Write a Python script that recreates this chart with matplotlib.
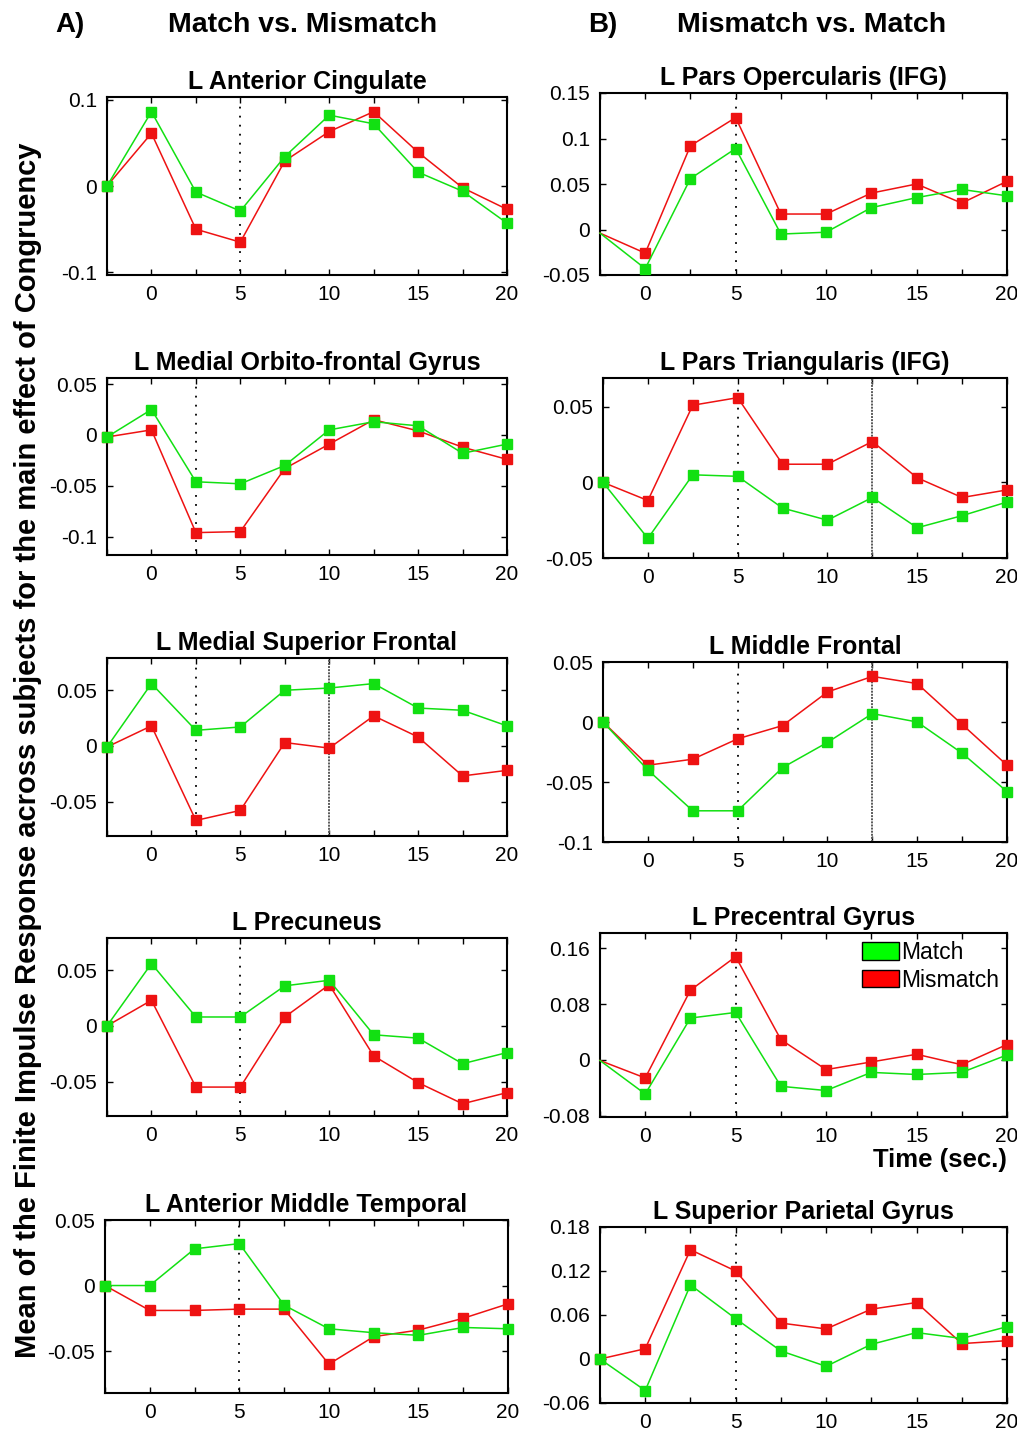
import matplotlib
matplotlib.use("Agg")
import matplotlib.pyplot as plt
from matplotlib.patches import Patch

plt.rcParams["font.family"] = ["Liberation Sans", "DejaVu Sans"]

W, H = 1017, 1431

TIME = [-2.5, 0, 2.5, 5, 7.5, 10, 12.5, 15, 17.5, 20]
XTICKS = [-2.5, 0, 2.5, 5, 7.5, 10, 12.5, 15, 17.5, 20]
XLABELS = ["", "0", "", "5", "", "10", "", "15", "", "20"]

# column A: Match vs. Mismatch
TITLES_A = ["L Anterior Cingulate", "L Medial Orbito-frontal Gyrus",
            "L Medial Superior Frontal", "L Precuneus", "L Anterior Middle Temporal"]
MATCH_A = [
    [0, 0.086, -0.007, -0.029, 0.034, 0.082, 0.072, 0.016, -0.006, -0.043],
    [-0.002, 0.025, -0.046, -0.048, -0.030, 0.005, 0.013, 0.009, -0.018, -0.009],
    [-0.001, 0.056, 0.014, 0.017, 0.050, 0.052, 0.056, 0.034, 0.032, 0.018],
    [0, 0.056, 0.008, 0.008, 0.036, 0.041, -0.008, -0.011, -0.034, -0.024],
    [0, 0, 0.028, 0.032, -0.015, -0.033, -0.036, -0.038, -0.032, -0.033],
]
MISMATCH_A = [
    [0, 0.061, -0.050, -0.065, 0.029, 0.063, 0.086, 0.039, -0.002, -0.027],
    [-0.002, 0.005, -0.096, -0.095, -0.033, -0.009, 0.015, 0.004, -0.012, -0.024],
    [-0.001, 0.018, -0.067, -0.058, 0.003, -0.002, 0.027, 0.008, -0.027, -0.022],
    [0, 0.023, -0.055, -0.055, 0.008, 0.037, -0.027, -0.051, -0.070, -0.060],
    [0, -0.019, -0.019, -0.018, -0.018, -0.060, -0.039, -0.034, -0.025, -0.014],
]
YLIM_A = [(-0.103, 0.103), (-0.118, 0.056), (-0.081, 0.079), (-0.081, 0.079), (-0.082, 0.05)]
YTICKS_A = [[-0.1, 0, 0.1], [-0.1, -0.05, 0, 0.05], [-0.05, 0, 0.05],
            [-0.05, 0, 0.05], [-0.05, 0, 0.05]]
DOTTED_A = [5, 2.5, 2.5, 5, 5]
GRAY_A = [None, None, 10, None, None]

# column B: Mismatch vs. Match
TITLES_B = ["L Pars Opercularis (IFG)", "L Pars Triangularis (IFG)", "L Middle Frontal",
            "L Precentral Gyrus", "L Superior Parietal Gyrus"]
MATCH_B = [
    [-0.004, -0.043, 0.056, 0.089, -0.005, -0.003, 0.024, 0.035, 0.044, 0.037],
    [0, -0.037, 0.005, 0.004, -0.017, -0.025, -0.010, -0.030, -0.022, -0.013],
    [0, -0.040, -0.074, -0.074, -0.038, -0.017, 0.007, 0, -0.026, -0.058],
    [-0.001, -0.049, 0.060, 0.068, -0.038, -0.044, -0.018, -0.021, -0.018, 0.007],
    [0, -0.043, 0.101, 0.055, 0.011, -0.010, 0.020, 0.036, 0.028, 0.044],
]
MISMATCH_B = [
    [-0.004, -0.026, 0.092, 0.123, 0.017, 0.017, 0.040, 0.050, 0.029, 0.053],
    [0, -0.012, 0.051, 0.056, 0.012, 0.012, 0.027, 0.003, -0.010, -0.005],
    [0, -0.036, -0.031, -0.014, -0.003, 0.025, 0.038, 0.032, -0.002, -0.036],
    [-0.001, -0.026, 0.100, 0.148, 0.029, -0.014, -0.003, 0.008, -0.007, 0.022],
    [0, 0.014, 0.149, 0.120, 0.049, 0.041, 0.068, 0.077, 0.021, 0.025],
]
YLIM_B = [(-0.05, 0.15), (-0.05, 0.069), (-0.1, 0.05), (-0.082, 0.182), (-0.06, 0.18)]
YTICKS_B = [[-0.05, 0, 0.05, 0.1, 0.15], [-0.05, 0, 0.05], [-0.1, -0.05, 0, 0.05],
            [-0.08, 0, 0.08, 0.16], [-0.06, 0, 0.06, 0.12, 0.18]]
DOTTED_B = [5, 5, 5, 5, 5]
GRAY_B = [None, 12.5, 12.5, None, None]
# panels whose first point shows no coloured marker
BARE_START_B = [True, False, False, True, False]

GREEN = "#12e012"
RED = "#ee1212"

# axes boxes in pixels: (left, top, right, bottom)
BOX_A = [(107, 97, 507, 275), (107, 378, 507, 555), (107, 658, 507, 836),
         (107, 938, 507, 1116), (105, 1220, 508, 1393)]
BOX_B = [(600, 93, 1007, 275), (603, 378, 1007, 558), (603, 662, 1007, 842),
         (600, 933, 1007, 1117), (600, 1227, 1007, 1403)]


def fmt(v):
    if v == 0:
        return "0"
    return f"{v:g}"


def panel(fig, box, title, match, mismatch, ylim, yticks, dotted, gray, bare=False):
    l, t, r, b = box
    ax = fig.add_axes([l / W, 1 - b / H, (r - l) / W, (b - t) / H])
    every = slice(1, None) if bare else None
    ax.plot(TIME, mismatch, color=RED, lw=1.1, marker="s", ms=6.5, markevery=every,
            mec=RED, clip_on=False, zorder=3)
    ax.plot(TIME, match, color=GREEN, lw=1.1, marker="s", ms=6.5, markevery=every,
            mec=GREEN, clip_on=False, zorder=4)
    ax.axvline(dotted, ymin=0.02, ymax=0.97, color="black", ls=(0, (1, 4)), lw=1.3, zorder=2)
    if gray is not None:
        ax.axvline(gray, color="0.35", ls=(0, (1, 0.6)), lw=1.4, zorder=2)
    ax.set_xlim(-2.5, 20)
    ax.set_ylim(*ylim)
    ax.set_xticks(XTICKS)
    ax.set_xticklabels(XLABELS)
    ax.set_yticks(yticks)
    ax.set_yticklabels([fmt(v) for v in yticks])
    ax.tick_params(direction="in", length=4, width=1, top=True, right=True,
                   labelsize=15, pad=7)
    for s in ax.spines.values():
        s.set_linewidth(1.5)
    ax.set_title(title, fontsize=18, fontweight="bold", pad=6)
    return ax


fig = plt.figure(figsize=(W / 100, H / 100), dpi=100)

for i in range(5):
    panel(fig, BOX_A[i], TITLES_A[i], MATCH_A[i], MISMATCH_A[i],
          YLIM_A[i], YTICKS_A[i], DOTTED_A[i], GRAY_A[i])
    ax = panel(fig, BOX_B[i], TITLES_B[i], MATCH_B[i], MISMATCH_B[i],
               YLIM_B[i], YTICKS_B[i], DOTTED_B[i], GRAY_B[i], BARE_START_B[i])
    if i == 3:
        handles = [Patch(facecolor="#00ff00", edgecolor="black", label="Match"),
                   Patch(facecolor="#ff0000", edgecolor="black", label="Mismatch")]
        ax.legend(handles=handles, loc="upper right", frameon=False, fontsize=16.5,
                  handlelength=1.6, handleheight=0.8, handletextpad=0.1,
                  labelspacing=0.2, borderaxespad=0.15, borderpad=0.2)
        ax.text(1.0, -0.235, "Time (sec.)", transform=ax.transAxes, ha="right",
                va="center", fontsize=18.5, fontweight="bold")

fig.text(55 / W, 1 - 25 / H, "A)", fontsize=20, fontweight="bold", va="center")
fig.text(303 / W, 1 - 25 / H, "Match vs. Mismatch", fontsize=20.5, fontweight="bold",
         va="center", ha="center")
fig.text(588 / W, 1 - 25 / H, "B)", fontsize=20, fontweight="bold", va="center")
fig.text(812 / W, 1 - 25 / H, "Mismatch vs. Match", fontsize=20.5, fontweight="bold",
         va="center", ha="center")
fig.text(28 / W, 1 - 750 / H,
         "Mean of the Finite Impulse Response across subjects for the main effect of Congruency",
         rotation=90, fontsize=21, fontweight="bold", va="center", ha="center")

fig.savefig("out.png", dpi=100)
